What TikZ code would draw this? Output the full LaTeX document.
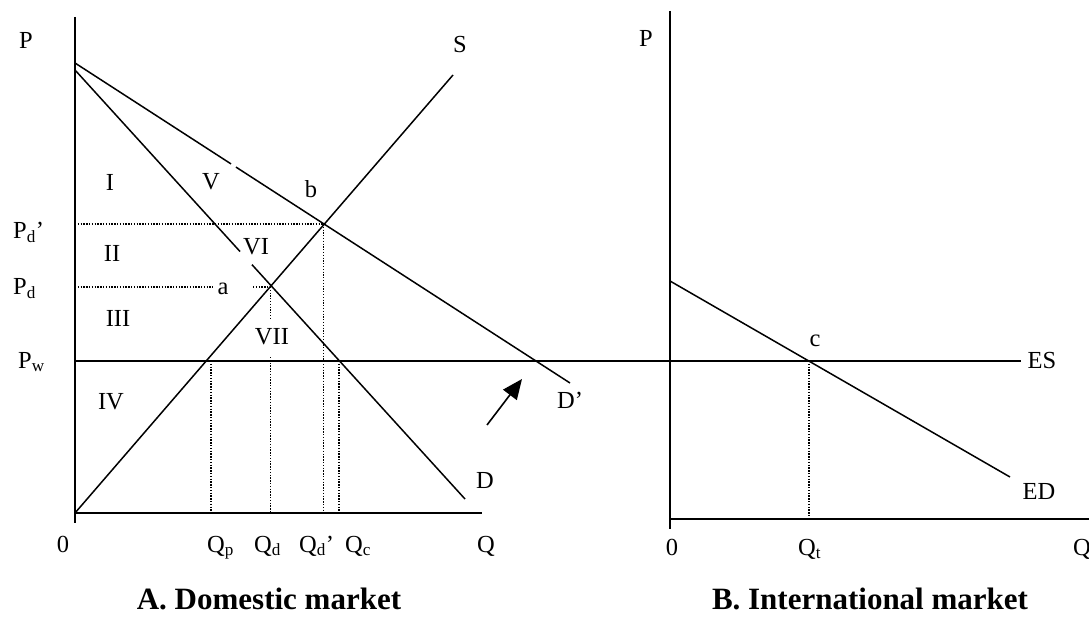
\documentclass[tikz,border=0pt]{standalone}
\usepackage{fontspec}
\setmainfont{Liberation Serif}
\usetikzlibrary{arrows.meta}
\begin{document}
\begin{tikzpicture}[x=1pt,y=-1pt,
  axis/.style={line width=1.7pt},
  curve/.style={line width=1.5pt},
  guide/.style={line width=1.3pt, dash pattern=on 1.3pt off 1.5pt},
  lbl/.style={font=\fontsize{24.5}{28}\selectfont, inner sep=0pt},
  ttl/.style={font=\fontsize{31}{34}\selectfont\bfseries, inner sep=0pt},
  arr/.style={line width=1.6pt, -{Triangle[length=20pt,width=17pt]}}]
\useasboundingbox (0,0) rectangle (1089,617);

% ---------- Panel A coordinates ----------
\coordinate (Atop) at (75,17);
\coordinate (Abot) at (75,523);
\coordinate (O) at (75,513);
\coordinate (Aend) at (482,513);
\coordinate (Stop) at (453,75);
\coordinate (Dst) at (75,70);
\coordinate (Dg1) at (240,251.5);
\coordinate (Dg2) at (252,264.7);
\coordinate (Dend) at (465,499);
\coordinate (Dpst) at (75,63);
\coordinate (Dpg1) at (231,163.9);
\coordinate (Dpg2) at (236,167.1);
\coordinate (Dpend) at (570,383);
\coordinate (a) at (270.5,287);
\coordinate (b) at (323.5,224);
\coordinate (Pdp) at (75,224);
\coordinate (Pd) at (75,287);
\coordinate (Pdgap1) at (213,287);
\coordinate (Pdgap2) at (253,287);
\coordinate (Qdgap1) at (270.5,320);
\coordinate (Qdgap2) at (270.5,357);
\coordinate (Qdb) at (270.5,513);
\coordinate (Qdpb) at (323.5,513);
\coordinate (Qpt) at (211,361);
\coordinate (Qpb) at (211,513);
\coordinate (Qct) at (339,361);
\coordinate (Qcb) at (339,513);
\coordinate (PwA) at (75,361);
\coordinate (PwB) at (1021,361);
\coordinate (ArS) at (487,425);
\coordinate (ArE) at (522,379);

% ---------- Panel B coordinates ----------
\coordinate (Btop) at (670,11);
\coordinate (Bbot) at (670,529);
\coordinate (OB) at (670,519);
\coordinate (Bend) at (1089,519);
\coordinate (EDst) at (670,281);
\coordinate (EDend) at (1010,477);
\coordinate (c) at (809,361);
\coordinate (Qtb) at (809,519);

% ---------- Panel A drawing ----------
\draw[axis] (Atop) -- (Abot);
\draw[axis] (O) -- (Aend);
\draw[curve] (O) -- (Stop);
\draw[curve] (Dst) -- (Dg1);
\draw[curve] (Dg2) -- (Dend);
\draw[curve] (Dpst) -- (Dpg1);
\draw[curve] (Dpg2) -- (Dpend);
\draw[axis] (PwA) -- (PwB);
\draw[guide] (Pdp) -- (b);
\draw[guide] (b) -- (Qdpb);
\draw[guide] (Pd) -- (Pdgap1);
\draw[guide] (Pdgap2) -- (a);
\draw[guide] (a) -- (Qdgap1);
\draw[guide] (Qdgap2) -- (Qdb);
\draw[guide] (Qpt) -- (Qpb);
\draw[guide] (Qct) -- (Qcb);
\draw[arr] (ArS) -- (ArE);

% ---------- Panel B drawing ----------
\draw[axis] (Btop) -- (Bbot);
\draw[axis] (OB) -- (Bend);
\draw[curve] (EDst) -- (EDend);
\draw[guide] (c) -- (Qtb);

% ---------- Labels panel A ----------
\node[lbl] (lP) at (26,40) {P};
\node[lbl] (lS) at (460,45) {S};
\node[lbl] (lI) at (110,182) {I};
\node[lbl] (lV) at (211,182) {V};
\node[lbl,anchor=base] (lb) at (311,198) {b};
\node[lbl,anchor=base west] (lPdp) at (13,239) {P\textsubscript{d}’};
\node[lbl,anchor=base west] (lPd) at (13,295) {P\textsubscript{d}};
\node[lbl,anchor=base west] (lPw) at (18,368) {P\textsubscript{w}};
\node[lbl] (lII) at (112,253) {II};
\node[lbl] (lVI) at (256,247) {VI};
\node[lbl] (lIII) at (118,318) {III};
\node[lbl] (lVII) at (272,337) {VII};
\node[lbl] (lIV) at (111,402) {IV};
\node[lbl,anchor=base] (la) at (223,295) {a};
\node[lbl] (lD) at (485,481) {D};
\node[lbl,anchor=west] (lDp) at (557,400) {D’};
\node[lbl,anchor=base] (l0A) at (63,552) {0};
\node[lbl,anchor=base west] (lQp) at (207,552) {Q\textsubscript{p}};
\node[lbl,anchor=base west] (lQd) at (254,552) {Q\textsubscript{d}};
\node[lbl,anchor=base west] (lQdp) at (299,552) {Q\textsubscript{d}’};
\node[lbl,anchor=base west] (lQc) at (345,552) {Q\textsubscript{c}};
\node[lbl,anchor=base west] (lQA) at (477,552) {Q};

% ---------- Labels panel B ----------
\node[lbl] (lPB) at (646,38) {P};
\node[lbl,anchor=base] (lc) at (815,346) {c};
\node[lbl] (lES) at (1042,361) {ES};
\node[lbl] (lED) at (1039,492) {ED};
\node[lbl,anchor=base] (l0B) at (672,555) {0};
\node[lbl,anchor=base west] (lQt) at (798,555) {Q\textsubscript{t}};
\node[lbl,anchor=base west] (lQB) at (1073,555) {Q};

% ---------- Titles ----------
\node[ttl,anchor=base] (tA) at (269,609) {A. Domestic market};
\node[ttl,anchor=base] (tB) at (870,609) {B. International market};
\end{tikzpicture}
\end{document}
